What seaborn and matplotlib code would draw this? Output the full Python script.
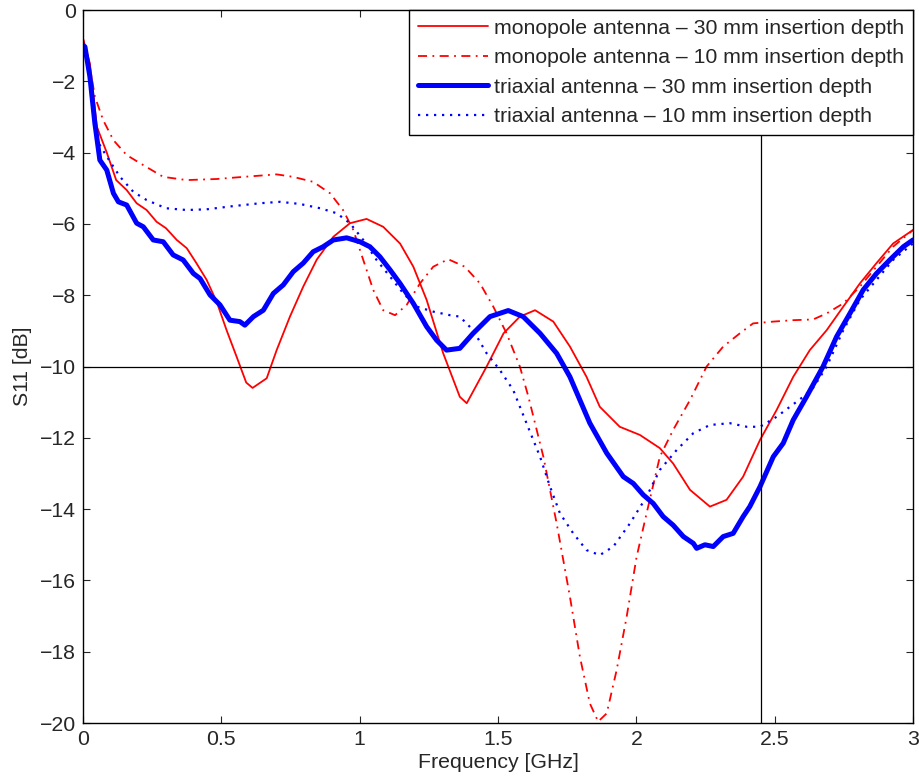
import matplotlib
matplotlib.use("Agg")
import matplotlib.pyplot as plt
import seaborn as sns
import pandas as pd

# monopole antenna - 30 mm
mono30_f = [0, 0.025, 0.05, 0.086, 0.12, 0.158, 0.194, 0.23, 0.266, 0.30, 0.339, 0.375, 0.41, 0.447, 0.483,
            0.519, 0.555, 0.59, 0.613, 0.664, 0.70, 0.748, 0.796, 0.845, 0.905, 0.965, 1.025, 1.085, 1.146, 1.194,
            1.242, 1.302, 1.362, 1.387, 1.459, 1.52, 1.579, 1.634, 1.70, 1.76, 1.82, 1.868, 1.94, 2.013, 2.085,
            2.133, 2.194, 2.266, 2.326, 2.386, 2.447, 2.507, 2.567, 2.627, 2.688, 2.748, 2.808, 2.868, 2.928, 3.0]
mono30_db = [-0.8, -1.5, -3.27, -4.0, -4.77, -5.05, -5.42, -5.61, -5.94, -6.12, -6.45, -6.68, -7.1, -7.57, -8.18,
             -8.98, -9.72, -10.45, -10.6, -10.33, -9.54, -8.6, -7.76, -7.0, -6.36, -5.98, -5.86, -6.08, -6.55, -7.2,
             -8.13, -9.63, -10.85, -11.03, -10.0, -9.07, -8.6, -8.42, -8.74, -9.44, -10.29, -11.13, -11.69, -11.92, -12.29,
             -12.72, -13.46, -13.93, -13.74, -13.09, -12.06, -11.22, -10.29, -9.54, -8.98, -8.32, -7.67, -7.1, -6.55, -6.17]

# monopole antenna - 10 mm
mono10_f = [0, 0.025, 0.043, 0.073, 0.11, 0.158, 0.218, 0.29, 0.375, 0.483, 0.58, 0.70, 0.76, 0.832, 0.893,
            0.94, 0.977, 1.013, 1.049, 1.085, 1.128, 1.17, 1.218, 1.266, 1.32, 1.38, 1.435, 1.483, 1.531, 1.579,
            1.61, 1.664, 1.712, 1.76, 1.796, 1.832, 1.862, 1.893, 1.929, 1.965, 2.001, 2.037, 2.085, 2.133, 2.194,
            2.254, 2.314, 2.374, 2.422, 2.495, 2.567, 2.639, 2.688, 2.748, 2.808, 2.868, 2.928, 3.0]
mono10_db = [-0.8, -1.59, -2.43, -3.09, -3.65, -4.07, -4.35, -4.68, -4.77, -4.74, -4.68, -4.61, -4.68, -4.82, -5.14,
             -5.61, -6.17, -7.01, -7.85, -8.42, -8.56, -8.27, -7.67, -7.2, -6.99, -7.2, -7.67, -8.32, -9.07, -10.0,
             -10.85, -12.53, -14.4, -16.46, -18.14, -19.45, -19.96, -19.73, -18.51, -17.02, -15.34, -14.12, -12.53, -11.78, -10.94,
             -10.0, -9.44, -9.07, -8.79, -8.74, -8.70, -8.68, -8.51, -8.23, -7.76, -7.2, -6.64, -6.17]

# triaxial antenna - 30 mm
tri30_f = [0, 0.007, 0.025, 0.043, 0.061, 0.086, 0.11, 0.128, 0.158, 0.194, 0.218, 0.254, 0.29, 0.326, 0.362,
           0.399, 0.423, 0.459, 0.495, 0.531, 0.567, 0.585, 0.616, 0.652, 0.688, 0.724, 0.76, 0.796, 0.832, 0.868,
           0.905, 0.953, 1.001, 1.037, 1.073, 1.11, 1.146, 1.194, 1.242, 1.278, 1.314, 1.362, 1.41, 1.471, 1.537,
           1.591, 1.652, 1.712, 1.76, 1.832, 1.893, 1.953, 1.989, 2.025, 2.061, 2.097, 2.133, 2.17, 2.206, 2.218,
           2.248, 2.278, 2.314, 2.35, 2.386, 2.41, 2.447, 2.495, 2.531, 2.567, 2.615, 2.675, 2.724, 2.772, 2.82,
           2.868, 2.916, 2.965, 3.0]
tri30_db = [-1.0, -1.03, -1.87, -3.18, -4.21, -4.49, -5.14, -5.38, -5.47, -5.98, -6.08, -6.45, -6.5, -6.87, -7.01,
            -7.39, -7.53, -7.99, -8.27, -8.70, -8.74, -8.84, -8.6, -8.42, -7.95, -7.71, -7.34, -7.1, -6.78, -6.64,
            -6.45, -6.39, -6.5, -6.64, -6.92, -7.29, -7.67, -8.23, -8.88, -9.26, -9.54, -9.49, -9.07, -8.6, -8.43,
            -8.6, -9.07, -9.63, -10.29, -11.59, -12.43, -13.09, -13.28, -13.6, -13.84, -14.21, -14.45, -14.77, -14.96, -15.1,
            -15.0, -15.05, -14.77, -14.68, -14.21, -13.93, -13.37, -12.53, -12.15, -11.5, -10.85, -10.0, -9.16, -8.51, -7.85,
            -7.39, -7.01, -6.64, -6.45]

# triaxial antenna - 10 mm
tri10_f = [0, 0.025, 0.05, 0.086, 0.134, 0.182, 0.23, 0.30, 0.375, 0.447, 0.543, 0.64, 0.712, 0.784, 0.857,
           0.917, 0.965, 1.013, 1.061, 1.11, 1.158, 1.206, 1.266, 1.326, 1.362, 1.41, 1.459, 1.507, 1.555, 1.603,
           1.652, 1.688, 1.724, 1.772, 1.82, 1.868, 1.917, 1.977, 2.037, 2.085, 2.146, 2.206, 2.266, 2.338, 2.399,
           2.447, 2.507, 2.555, 2.603, 2.639, 2.688, 2.748, 2.808, 2.868, 2.928, 3.0]
tri10_db = [-0.9, -1.9, -3.65, -4.11, -4.68, -5.1, -5.33, -5.56, -5.61, -5.59, -5.5, -5.42, -5.38, -5.44, -5.56,
            -5.7, -5.98, -6.45, -7.01, -7.48, -7.95, -8.32, -8.46, -8.56, -8.6, -8.98, -9.63, -10.1, -10.66, -11.59,
            -12.53, -13.37, -14.12, -14.68, -15.15, -15.29, -15.05, -14.4, -13.65, -12.9, -12.34, -11.87, -11.64, -11.59, -11.69,
            -11.69, -11.41, -11.13, -10.85, -10.6, -10.0, -8.98, -8.13, -7.57, -7.01, -6.55]

labels = ["monopole antenna \u2013 30 mm insertion depth",
          "monopole antenna \u2013 10 mm insertion depth",
          "triaxial antenna \u2013 30 mm insertion depth",
          "triaxial antenna \u2013 10 mm insertion depth"]

xticks = [0, 0.5, 1, 1.5, 2, 2.5, 3]
xticklabels = ["0", "0.5", "1", "1.5", "2", "2.5", "3"]
yticks = [0, -2, -4, -6, -8, -10, -12, -14, -16, -18, -20]

sns.set_style("ticks")
plt.rcParams["font.family"] = ["Liberation Sans", "DejaVu Sans"]
plt.rcParams["xtick.direction"] = "in"
plt.rcParams["ytick.direction"] = "in"
plt.rcParams["xtick.top"] = True
plt.rcParams["ytick.right"] = True

fs = 15.3

fig = plt.figure(figsize=(9.2, 7.84), dpi=100)
ax = fig.add_axes([0.0902, 0.0778, 0.9022, 0.9094])

series = [
    (mono30_f, mono30_db, "red", "-", 1.3),
    (mono10_f, mono10_db, "red", (0, (5, 3, 1, 3)), 1.3),
    (tri30_f, tri30_db, "blue", "-", 3.6),
    (tri10_f, tri10_db, "blue", (0, (1, 2.6)), 1.6),
]
for (f, db, col, ls, lw), lab in zip(series, labels):
    df = pd.DataFrame({"f": f, "db": db})
    sns.lineplot(data=df, x="f", y="db", ax=ax, color=col, linestyle=ls, linewidth=lw,
                 label=lab, estimator=None, sort=False)

ax.axhline(-10, color="black", lw=0.9)
ax.axvline(2.45, color="black", lw=0.9)

ax.set_xlim(0, 3)
ax.set_ylim(-20, 0)
ax.set_xticks(xticks)
ax.set_xticklabels(xticklabels)
ax.set_yticks(yticks)
ax.tick_params(labelsize=fs, length=5, width=0.8, pad=5)
for s in ax.spines.values():
    s.set_color("black")
    s.set_linewidth(1.0)

ax.set_xlabel("Frequency [GHz]", fontsize=fs, labelpad=3)
ax.set_ylabel("S11 [dB]", fontsize=fs, labelpad=6)

leg = ax.legend(loc="upper right", borderaxespad=0, fontsize=fs, handlelength=3.3,
                fancybox=False, framealpha=1, edgecolor="black", labelspacing=0.5,
                borderpad=0.4, handletextpad=0.3)
leg.get_frame().set_linewidth(1.0)

fig.savefig("out.png", dpi=100)
